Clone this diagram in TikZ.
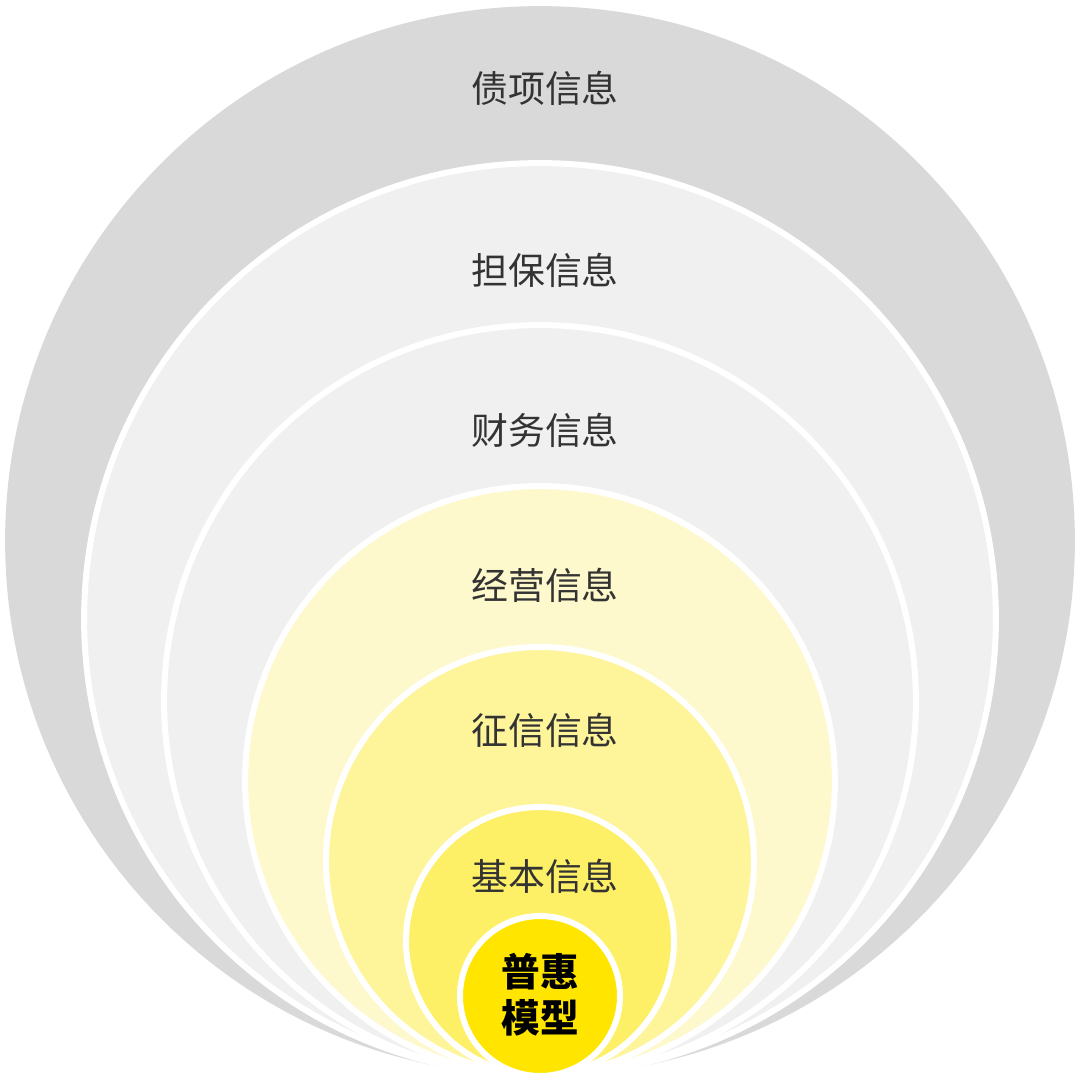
\documentclass[tikz,border=0pt]{standalone}
\usepackage{fontspec}
\newfontfamily\cjk{Noto Sans CJK SC}
\definecolor{ringgray}{HTML}{D9D9D9}
\definecolor{ringlight}{HTML}{F0F0F0}
\definecolor{ringyA}{HTML}{FEF9CC}
\definecolor{ringyB}{HTML}{FEF59A}
\definecolor{ringyC}{HTML}{FEF066}
\definecolor{ringcore}{HTML}{FFE500}
\definecolor{labeltext}{HTML}{333333}
\begin{document}
\begin{tikzpicture}[x=0.02cm, y=-0.02cm, ring/.style={circle, draw=white, line width=1.2mm, inner sep=0pt}, lbl/.style={font=\cjk\fontsize{21}{21}\selectfont, text=labeltext}]
\useasboundingbox (0,0) rectangle (1080,1080);
\node (r1)[circle, fill=ringgray, inner sep=0pt, minimum size=21.4cm] at (540,541) {};
\node (r2)[ring, fill=ringlight, minimum size=18.24cm] at (540,619) {};
\node (r3)[ring, fill=ringlight, minimum size=15.04cm] at (540,701) {};
\node (r4)[ring, fill=ringyA, minimum size=11.8cm] at (540,781) {};
\node (r5)[ring, fill=ringyB, minimum size=8.56cm] at (540,861) {};
\node (r6)[ring, fill=ringyC, minimum size=5.36cm] at (540,941) {};
\node (r7)[ring, fill=ringcore, minimum size=3.2cm] at (540,996) {};
\node (t1)[lbl] at (545,88) {债项信息};
\node (t2)[lbl] at (545,270) {担保信息};
\node (t3)[lbl] at (545,430) {财务信息};
\node (t4)[lbl] at (545,585) {经营信息};
\node (t5)[lbl] at (545,730) {征信信息};
\node (t6)[lbl] at (545,876) {基本信息};
\node (t7)[font=\cjk\bfseries\fontsize{22}{26}\selectfont, align=center] at (540,995) {普惠\\模型};
\end{tikzpicture}
\end{document}
